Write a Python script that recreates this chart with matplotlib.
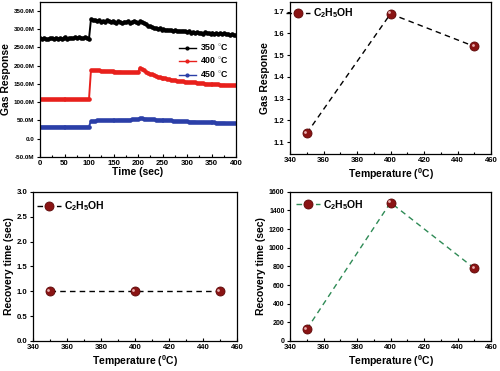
import numpy as np
import matplotlib
matplotlib.use("Agg")
import matplotlib.pyplot as plt
from matplotlib.ticker import MultipleLocator, FuncFormatter, AutoMinorLocator
from matplotlib.transforms import offset_copy

plt.rcParams['font.family'] = ['Liberation Sans', 'DejaVu Sans']
plt.rcParams['font.weight'] = 'bold'
plt.rcParams['mathtext.fontset'] = 'custom'
plt.rcParams['mathtext.rm'] = 'Liberation Sans:bold'
plt.rcParams['mathtext.it'] = 'Liberation Sans:bold'
plt.rcParams['mathtext.bf'] = 'Liberation Sans:bold'

# time series (response in units of 1e6)
time_sec = np.arange(0, 401, 4)
resp_350 = [276, 273, 277, 274, 272, 276, 275, 273, 277, 274, 276, 273, 275, 278, 274, 276, 277, 275, 278, 276, 279, 277, 275, 278, 276, 274,
            327, 324, 326, 322, 325, 321, 323, 320, 324, 322, 319, 323, 321, 318, 322, 320, 317, 321, 319, 322, 318, 320, 323, 321, 318,
            322, 319, 316, 313, 310, 308, 306, 304, 303, 301, 302, 299, 300, 298, 299, 297, 298, 296, 297, 295, 296, 294, 296, 294, 293,
            294, 291, 293, 290, 292, 289, 291, 288, 292, 289, 290, 287, 291, 288, 290, 286, 289, 287, 290, 286, 288, 285, 287, 284, 283]
resp_400 = [108, 108, 108, 108, 108, 108, 108, 108, 108, 108, 108, 108, 108, 108, 108, 108, 108, 108, 108, 108, 108, 108, 108, 108, 108, 108,
            188, 188, 187, 187, 187, 186, 186, 186, 185, 185, 185, 185, 184, 184, 184, 184, 183, 183, 183, 183, 183, 182, 182, 182, 182,
            195, 191, 187, 184, 181, 178, 176, 174, 172, 170, 169, 167, 166, 165, 164, 163, 162, 161, 160, 159, 158, 158, 157, 156, 156,
            155, 155, 154, 154, 153, 153, 152, 152, 151, 151, 150, 150, 150, 149, 149, 149, 148, 148, 148, 147, 147, 147, 146, 146, 146]
resp_450 = [33, 33, 33, 33, 33, 33, 33, 33, 33, 33, 33, 33, 33, 33, 33, 33, 33, 33, 33, 33, 33, 33, 33, 33, 33, 33,
            49, 49, 49, 50, 50, 50, 50, 50, 51, 51, 51, 51, 51, 51, 52, 52, 52, 52, 52, 52, 52, 53, 53, 53, 53,
            57, 56, 55, 55, 54, 54, 53, 53, 52, 52, 52, 51, 51, 51, 50, 50, 50, 49, 49, 49, 49, 48, 48, 48, 48,
            47, 47, 47, 47, 46, 46, 46, 46, 46, 45, 45, 45, 45, 45, 44, 44, 44, 44, 44, 43, 43, 43, 43, 43, 42]
series_labels = ['350 $^{\\circ}$C', '400 $^{\\circ}$C', '450 $^{\\circ}$C']
series_colors = ['black', '#e8201c', '#2b3fa8']

# temperature plots
temps = [350, 400, 450]
gas_response = [1.14, 1.69, 1.54]
recovery_a = [1.0, 1.0, 1.0]
recovery_b = [125, 1485, 780]
species = 'C$_2$H$_5$OH'

fig = plt.figure(figsize=(5, 3.71), dpi=100)
ax1 = fig.add_axes([0.080, 0.577, 0.392, 0.418])
ax2 = fig.add_axes([0.580, 0.585, 0.402, 0.410])
ax3 = fig.add_axes([0.066, 0.081, 0.408, 0.402])
ax4 = fig.add_axes([0.580, 0.081, 0.402, 0.402])

tick_fs = 5.6
label_fs = 7.5


def style(ax):
    for s in ax.spines.values():
        s.set_linewidth(0.9)
    ax.tick_params(which='both', labelsize=tick_fs, width=0.8, pad=1.5)
    ax.tick_params(axis='x', which='both', direction='in', pad=2.5)
    ax.tick_params(axis='y', which='both', direction='out')
    ax.tick_params(which='major', length=2.5)
    ax.tick_params(which='minor', length=1.5)
    ax.xaxis.set_minor_locator(AutoMinorLocator(2))
    for lab in ax.get_xticklabels() + ax.get_yticklabels():
        lab.set_fontweight('bold')


# panel 1: time series
for vals, lab, col in zip([resp_350, resp_400, resp_450], series_labels, series_colors):
    ax1.plot(time_sec, np.array(vals) * 1e6, color=col, lw=1.4, marker='o', ms=2.3,
             mec=col, mfc=col, label=lab)
ax1.set_xlim(0, 400)
ax1.set_ylim(-50e6, 375e6)
ax1.xaxis.set_major_locator(MultipleLocator(50))
ax1.yaxis.set_major_locator(MultipleLocator(50e6))
ax1.yaxis.set_major_formatter(FuncFormatter(lambda v, p: '0.0' if abs(v) < 1 else '%.1fM' % (v / 1e6)))
ax1.set_xlabel('Time (sec)', fontsize=label_fs, fontweight='bold', labelpad=0)
ax1.set_ylabel('Gas Response', fontsize=label_fs, fontweight='bold', labelpad=2)
style(ax1)
ax1.tick_params(axis='y', labelsize=4.5)
leg1 = ax1.legend(loc='upper right', bbox_to_anchor=(1.0, 0.79), frameon=False, fontsize=6.3,
                  handlelength=2.0, handletextpad=0.4, labelspacing=0.4)
for line in leg1.get_lines():
    line.set_linewidth(1.0)
    line.set_markersize(2.0)
for t in leg1.get_texts():
    t.set_fontweight('bold')


def sphere_plot(ax, x, y, line_color, dash):
    ax.plot(x, y, color=line_color, lw=1.0, ls=(0, dash), marker='o', ms=6.5,
            mfc='#8a1414', mec='#5c0808', mew=0.6, label=species, zorder=3)
    hl = offset_copy(ax.transData, fig=ax.figure, x=-1.2, y=1.2, units='points')
    ax.plot(x, y, ls='none', marker='o', ms=2.0, mfc='#e8b0b0', mec='none', transform=hl, zorder=4)


# panel 2
sphere_plot(ax2, temps, gas_response, 'black', (4, 3))
ax2.set_xlim(340, 460)
ax2.set_ylim(1.045, 1.745)
ax2.xaxis.set_major_locator(MultipleLocator(20))
ax2.yaxis.set_major_locator(MultipleLocator(0.1))
ax2.set_xlabel('Temperature ($^0$C)', fontsize=label_fs, fontweight='bold', labelpad=1)
ax2.set_ylabel('Gas Response', fontsize=label_fs, fontweight='bold', labelpad=3)
style(ax2)

# panel 3
sphere_plot(ax3, temps, recovery_a, 'black', (4, 3))
ax3.set_xlim(340, 460)
ax3.set_ylim(0, 3.0)
ax3.xaxis.set_major_locator(MultipleLocator(20))
ax3.yaxis.set_major_locator(MultipleLocator(0.5))
ax3.yaxis.set_major_formatter(FuncFormatter(lambda v, p: '%.1f' % v))
ax3.set_xlabel('Temperature ($^0$C)', fontsize=label_fs, fontweight='bold', labelpad=1)
ax3.set_ylabel('Recovery time (sec)', fontsize=label_fs, fontweight='bold', labelpad=2)
style(ax3)

# panel 4
sphere_plot(ax4, temps, recovery_b, '#2e8a55', (4, 3))
ax4.set_xlim(340, 460)
ax4.set_ylim(0, 1600)
ax4.xaxis.set_major_locator(MultipleLocator(20))
ax4.yaxis.set_major_locator(MultipleLocator(200))
ax4.set_xlabel('Temperature ($^0$C)', fontsize=label_fs, fontweight='bold', labelpad=1)
ax4.set_ylabel('Recovery time (sec)', fontsize=label_fs, fontweight='bold', labelpad=2)
style(ax4)
ax4.tick_params(axis='y', labelsize=5)

for ax, anchor in [(ax2, (-0.05, 1.01)), (ax3, (-0.01, 0.99)), (ax4, (0.0, 1.0))]:
    lg = ax.legend(loc='upper left', bbox_to_anchor=anchor, frameon=False, fontsize=7.5,
                   handlelength=2.3, handletextpad=0.3, borderaxespad=0.2)
    for t in lg.get_texts():
        t.set_fontweight('bold')

fig.savefig('out.png', dpi=100)
